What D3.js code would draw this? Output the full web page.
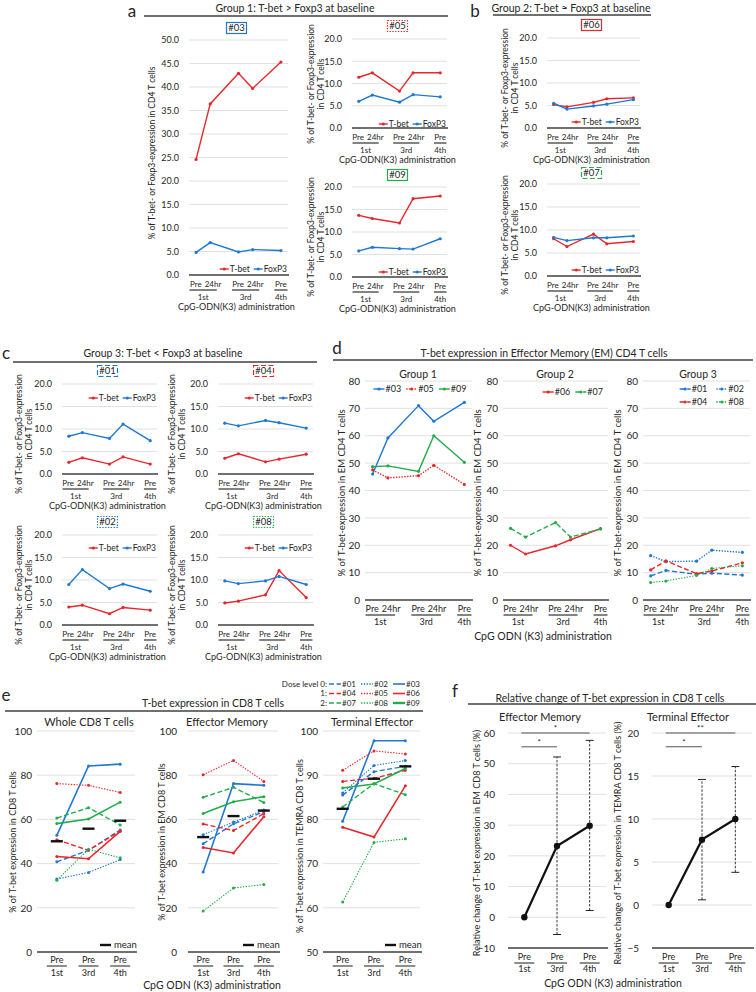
<!DOCTYPE html>
<html><head><meta charset="utf-8">
<script src="https://cdn.jsdelivr.net/npm/d3@7"></script>
<style>body{margin:0;background:#fff}svg{display:block}</style>
</head><body><script>
// ================= DATA =================
const cd4Times = ["Pre","24hr","Pre","24hr","Pre"];
const cd4Admin = ["1st","1st","3rd","3rd","4th"];
const adminGroups = ["1st","3rd","4th"];
// CD4 T-bet / FoxP3 (% of CD4 T cells)
const tbet03 = [24.6, 36.4, 42.9, 39.7, 45.3], foxp3_03 = [4.8, 6.9, 4.9, 5.4, 5.2];
const tbet05 = [11.4, 12.4, 8.3, 12.4, 12.4], foxp3_05 = [6.0, 7.4, 5.8, 7.5, 7.0];
const tbet09 = [13.7, 13.0, 12.0, 17.4, 18.0], foxp3_09 = [5.8, 6.6, 6.3, 6.2, 8.5];
const tbet06 = [5.2, 4.7, 5.7, 6.5, 6.7],      foxp3_06 = [5.5, 4.2, 4.9, 5.3, 6.3];
const tbet07 = [8.1, 6.4, 9.1, 7.0, 7.5],      foxp3_07 = [8.4, 7.7, 8.3, 8.3, 8.7];
const tbet01 = [2.6, 3.6, 2.2, 3.8, 2.2],      foxp3_01 = [8.4, 9.2, 7.9, 11.1, 7.4];
const tbet04 = [3.5, 4.5, 2.7, 3.3, 4.4],      foxp3_04 = [11.3, 10.7, 11.9, 11.4, 10.2];
const tbet02 = [4.0, 4.4, 2.5, 3.9, 3.3],      foxp3_02 = [9.0, 12.3, 8.1, 9.1, 7.5];
const tbet08 = [4.9, 5.3, 6.7, 12.1, 6.1],     foxp3_08 = [9.8, 9.2, 9.8, 10.8, 9.0];
// T-bet in EM CD4 T cells
const em03 = [46.0, 59.2, 71.0, 65.3, 72.2];
const em05 = [47.5, 44.6, 45.4, 49.2, 42.2];
const em09 = [48.7, 49.0, 47.0, 60.0, 50.3];
const em06 = [20.0, 16.8, 19.8, 22.0, 26.1];
const em07 = [26.2, 23.0, 28.3, 23.0, 25.9];
const em01 = [8.8, 10.8, 9.4, 9.8, 9.1];
const em02 = [16.2, 14.0, 14.2, 18.2, 17.4];
const em04 = [11.0, 14.3, 9.6, 10.6, 13.6];
const em08 = [6.4, 6.9, 9.0, 11.5, 12.5];
// CD8 (Pre 1st, Pre 3rd, Pre 4th)
const cd8Admin = ["1st","3rd","4th"];
const patients = ["#01","#02","#03","#04","#05","#06","#07","#08","#09"];
const wholeCD8 = [[40.8,46.0,55.2],[33.0,36.0,41.8],[52.8,84.2,85.0],[50.8,46.0,54.8],[76.2,75.4,72.2],[43.2,42.2,54.6],[60.6,65.3,57.5],[32.5,46.5,42.6],[58.1,60.2,67.8]];
const wholeMean = [50.1, 55.8, 59.4];
const emCD8 = [[49.0,58.0,63.5],[53.1,58.8,64.2],[36.2,76.2,75.4],[57.9,55.0,62.6],[80.2,86.7,77.2],[47.3,44.8,61.2],[70.0,74.5,67.6],[18.5,29.0,30.5],[62.7,68.0,70.3]];
const emMean = [52.0, 61.5, 64.0];
const temraCD8 = [[85.5,90.8,92.0],[86.0,92.2,93.3],[79.6,97.8,97.8],[88.6,89.3,91.1],[91.1,95.5,94.8],[78.2,76.0,87.6],[82.8,88.1,85.6],[61.3,74.8,75.6],[87.1,88.0,91.5]];
const temraMean = [82.4, 89.2, 92.0];
// Relative change (%)
const relEM = [0, 23.2, 29.8], relEMlo = [null, -5.6, 2.2], relEMhi = [null, 52.2, 57.6];
const relTE = [0, 7.6, 10.0],  relTElo = [null, 0.6, 3.8],  relTEhi = [null, 14.6, 16.1];
const sigEM = [["1st","3rd",55.5,"*"],["1st","4th",60,"*"]];
const sigTE = [["1st","3rd",18.4,"*"],["1st","4th",20,"**"]];

// ================= STYLE / HELPERS =================
const W=756,H=992;
const FONT="Lato, 'Liberation Sans', sans-serif";
const RED="#e8262b", BLUE="#1f78d2", GREEN="#22ad4b", INK="#262626", GRID="#d9d9d9", AXIS="#404040";
const DASH={solid:null,dashed:"5,2.5",dotted:"1.4,1.4"};
const pStyle={"#01":[BLUE,"dashed"],"#02":[BLUE,"dotted"],"#03":[BLUE,"solid"],
              "#04":[RED,"dashed"],"#05":[RED,"dotted"],"#06":[RED,"solid"],
              "#07":[GREEN,"dashed"],"#08":[GREEN,"dotted"],"#09":[GREEN,"solid"]};
const svg=d3.select("body").append("svg").attr("width",W).attr("height",H).style("font-family",FONT);
svg.append("rect").attr("width",W).attr("height",H).attr("fill","#fff");

function txt(p,x,y,s,size,anchor="middle"){
  return p.append("text").attr("x",x).attr("y",y).attr("dy","0.35em").attr("text-anchor",anchor)
    .attr("font-size",size).attr("fill",INK).text(s);
}
function vtxt(p,x,y,lines,size,lh){
  const n=lines.length;
  lines.forEach((s,i)=>{
    const xx=x+(i-(n-1)/2)*lh;
    p.append("text").attr("transform",`translate(${xx},${y}) rotate(-90)`).attr("dy","0.35em")
      .attr("text-anchor","middle").attr("font-size",size).attr("fill",INK).text(s);
  });
}
function hline(p,x1,x2,y,color,w,dash){
  return p.append("line").attr("x1",x1).attr("x2",x2).attr("y1",y).attr("y2",y)
    .attr("stroke",color).attr("stroke-width",w).attr("stroke-dasharray",dash||null);
}
function header(letter,lx,lbase,title,tx,ty,ux1,ux2,uy){
  svg.append("text").attr("x",lx).attr("y",lbase).attr("text-anchor","middle")
    .attr("font-size",17).attr("fill",INK).text(letter);
  txt(svg,tx,ty,title,10.5);
  hline(svg,ux1,ux2,uy,AXIS,1.3);
}
function legend(p,items,x,y,opt){
  const g=p.append("g");
  let cx=0;
  items.forEach(it=>{
    g.append("line").attr("x1",cx).attr("x2",cx+opt.seg).attr("y1",0).attr("y2",0)
      .attr("stroke",it.color).attr("stroke-width",it.w||1.4).attr("stroke-dasharray",DASH[it.dash||"solid"]);
    if(it.marker!==false) g.append("circle").attr("cx",cx+opt.seg/2).attr("cy",0).attr("r",1.6).attr("fill",it.color);
    const t=g.append("text").attr("x",cx+opt.seg+1).attr("y",0).attr("dy","0.35em")
      .attr("font-size",opt.size).attr("fill",INK).text(it.label);
    cx+=opt.seg+1+t.node().getComputedTextLength()+opt.gap;
  });
  cx-=opt.gap;
  const sx=opt.align==="right"?x-cx:(opt.align==="center"?x-cx/2:x);
  g.attr("transform",`translate(${sx},${y})`);
}
function idBox(p,cx,cy,id){
  const [c,d]=pStyle[id];
  p.append("rect").attr("x",cx-10).attr("y",cy-5.5).attr("width",20).attr("height",11)
    .attr("fill","none").attr("stroke",c).attr("stroke-width",1.2).attr("stroke-dasharray",DASH[d]);
  txt(p,cx,cy,id,9.5);
}

// ===== time-course chart (CD4 panels a-d) =====
const slotKeys=["1st|Pre","1st|24hr","gapA","3rd|Pre","3rd|24hr","gapB","4th|Pre"];
const cd4Keys=cd4Times.map((t,i)=>cd4Admin[i]+"|"+t);
function timeChart(o){
  const g=svg.append("g");
  const x=d3.scaleBand().domain(slotKeys).range([o.x0,o.x1]);
  const bw=x.bandwidth();
  const cx=k=>x(k)+bw/2;
  const y=d3.scaleLinear().domain([0,o.ymax]).range([o.yZero,o.yTop]);
  const ticks=d3.range(0,o.ymax+1e-6,o.step);
  g.selectAll(null).data(ticks.slice(1)).join("line")
    .attr("x1",o.x0).attr("x2",o.x1).attr("y1",d=>y(d)).attr("y2",d=>y(d))
    .attr("stroke",GRID).attr("stroke-width",0.8);
  const ax=g.append("g").attr("transform",`translate(${o.x0},0)`)
    .call(d3.axisLeft(y).tickValues(ticks).tickSize(0).tickPadding(o.pad).tickFormat(d3.format(o.fmt)));
  ax.select(".domain").remove();
  ax.selectAll("text").attr("font-size",o.tick||9).attr("fill",INK).attr("font-family",FONT);
  hline(g,o.x0,o.x1+1,o.yZero,AXIS,1.6);
  const line=d3.line().x((d,i)=>cx(cd4Keys[i])).y(d=>y(d));
  o.series.forEach(s=>{
    g.append("path").datum(s.values).attr("d",line).attr("fill","none").attr("stroke",s.color)
      .attr("stroke-width",s.w||1.4).attr("stroke-dasharray",DASH[s.dash||"solid"]);
    g.selectAll(null).data(s.values).join("circle").attr("cx",(d,i)=>cx(cd4Keys[i])).attr("cy",d=>y(d))
      .attr("r",1.6).attr("fill",s.color);
  });
  // x labels
  const fs=o.xlab||8;
  adminGroups.forEach(a=>{
    const idx=cd4Keys.map((k,i)=>i).filter(i=>cd4Admin[i]===a);
    const ks=idx.map(i=>cd4Keys[i]);
    if(ks.length===2){
      const b=x(ks[1]);
      txt(g,b-1.5,o.yZero+9,cd4Times[idx[0]],fs,"end");
      txt(g,b+1.5,o.yZero+9,cd4Times[idx[1]],fs,"start");
    } else {
      txt(g,cx(ks[0]),o.yZero+9,cd4Times[idx[0]],fs);
    }
    const xa=x(ks[0])+0.5, xb=x(ks[ks.length-1])+bw-0.5;
    hline(g,xa,xb,o.yZero+15,AXIS,1.3);
    txt(g,(xa+xb)/2,o.yZero+22,a,fs);
  });
  if(o.admin) txt(g,(o.x0+o.x1)/2-2,o.yZero+32,"CpG-ODN(K3) administration",9);
  if(o.yTitle) vtxt(g,o.yTitle[0],o.yTitle[1],o.yTitle[2],o.yTitleSize||8.5,10);
  if(o.legend) legend(g,o.legend.items,o.legend.x,o.legend.y,o.legend.opt);
  if(o.label) txt(g,o.label[0],o.label[1],o.label[2],10.5);
  return g;
}
const cd4Legend=(x,y)=>({items:[{label:"T-bet",color:RED},{label:"FoxP3",color:BLUE}],x,y,opt:{seg:9,gap:4,size:8.5,align:"right"}});
const cd4Title1=["% of T-bet- or Foxp3-expression in CD4 T cells"];
const cd4Title2=["% of T-bet- or Foxp3-expression","in CD4 T cells"];
function cd4(id,tb,fx,x0,x1,yTop,yZero,ymax,boxY,yt,legY){
  const ser=[{values:tb,color:RED},{values:fx,color:BLUE}];
  timeChart({x0,x1,yTop,yZero,ymax,step:5,fmt:".1f",pad:10,series:ser,admin:true,
    yTitle:yt,legend:cd4Legend(x1-1,legY)});
  idBox(svg,(x0+x1)/2-2,boxY,id);
}

// ---- Panel a ----
header("a",132,17,"Group 1: T-bet > Foxp3 at baseline",295,8,144,448,16);
cd4("#03",tbet03,foxp3_03,189,288,40,275,50,28,[152,153,cd4Title1],269);
cd4("#05",tbet05,foxp3_05,352,447,39,128,20,26,[316,84,cd4Title2],124);
cd4("#09",tbet09,foxp3_09,352,447,187,277,20,175,[316,237,cd4Title2],272);
// ---- Panel b ----
header("b",475,17,"Group 2: T-bet \u2248 Foxp3 at baseline",571,8,493,651,15);
cd4("#06",tbet06,foxp3_06,547,640,38,128,20,25,[510,88,cd4Title2],122);
cd4("#07",tbet07,foxp3_07,547,640,184,276,20,173,[510,235,cd4Title2],270);
// ---- Panel c ----
header("c",6,359,"Group 3: T-bet < Foxp3 at baseline",163,353,13,317,362);
cd4("#01",tbet01,foxp3_01,62,157,384,474,20,371,[24,434,cd4Title2],398);
cd4("#04",tbet04,foxp3_04,218,313,384,474,20,371,[177,434,cd4Title2],398);
cd4("#02",tbet02,foxp3_02,62,157,535,625,20,522,[24,585,cd4Title2],548);
cd4("#08",tbet08,foxp3_08,218,313,535,625,20,522,[177,585,cd4Title2],548);

// ---- Panel d ----
header("d",337,354,"T-bet expression in Effector Memory (EM) CD4 T cells",544,353,333,753,360);
const emTitle=["% of T-bet-expression in EM CD4 T cells"];
const sty=id=>({color:pStyle[id][0],dash:pStyle[id][1]});
timeChart({x0:365,x1:472,yTop:381,yZero:600,ymax:80,step:10,fmt:"d",pad:5,tick:10,xlab:9,
  series:[{values:em03,...sty("#03")},{values:em05,...sty("#05")},{values:em09,...sty("#09")}],
  yTitle:[342,493,emTitle],yTitleSize:9.5,label:[418,374,"Group 1"],
  legend:{items:[{label:"#03",...sty("#03")},{label:"#05",...sty("#05")},{label:"#09",...sty("#09")}],x:420,y:389,opt:{seg:11,gap:5,size:9,align:"center"}}});
timeChart({x0:503,x1:608,yTop:381,yZero:600,ymax:80,step:10,fmt:"d",pad:5,tick:10,xlab:9,
  series:[{values:em06,...sty("#06")},{values:em07,...sty("#07")}],
  yTitle:[478,493,emTitle],yTitleSize:9.5,label:[555,374,"Group 2"],
  legend:{items:[{label:"#06",...sty("#06")},{label:"#07",...sty("#07")}],x:603,y:392,opt:{seg:11,gap:5,size:9,align:"right"}}});
const g3=timeChart({x0:643,x1:750,yTop:381,yZero:600,ymax:80,step:10,fmt:"d",pad:5,tick:10,xlab:9,
  series:[{values:em01,...sty("#01")},{values:em02,...sty("#02")},{values:em04,...sty("#04")},{values:em08,...sty("#08"),w:1.1}],
  yTitle:[618,493,emTitle],yTitleSize:9.5,label:[698,374,"Group 3"],
  legend:{items:[{label:"#01",...sty("#01")},{label:"#02",...sty("#02")}],x:744,y:389,opt:{seg:11,gap:9,size:9,align:"right"}}});
legend(g3,[{label:"#04",...sty("#04")},{label:"#08",...sty("#08")}],744,402,{seg:11,gap:9,size:9,align:"right"});
txt(svg,543,636,"CpG ODN (K3) administration",10.5);

// ===== CD8 charts (panel e) =====
function cd8Chart(o){
  const g=svg.append("g");
  const x=d3.scalePoint().domain(cd8Admin).range([o.px0,o.px1]).padding(0.5);
  const y=d3.scaleLinear().domain([o.ymin,o.ymax]).range([o.yBot,o.yTop]);
  const ticks=d3.range(o.ymin,o.ymax+1e-6,o.step);
  g.selectAll(null).data(ticks.slice(1)).join("line")
    .attr("x1",o.gx0).attr("x2",o.gx1).attr("y1",d=>y(d)).attr("y2",d=>y(d))
    .attr("stroke",GRID).attr("stroke-width",0.8);
  const ax=g.append("g").attr("transform",`translate(${o.gx0},0)`)
    .call(d3.axisLeft(y).tickValues(ticks).tickSize(0).tickPadding(o.pad).tickFormat(d3.format("d")));
  ax.select(".domain").remove();
  ax.selectAll("text").attr("font-size",10).attr("fill",INK).attr("font-family",FONT);
  hline(g,o.gx0,o.gx1+2,o.yBot,AXIS,1.6);
  const line=d3.line().x((d,i)=>x(cd8Admin[i])).y(d=>y(d));
  patients.forEach((p,pi)=>{
    const [c,d]=pStyle[p];
    const w=d==="solid"?1.6:(d==="dashed"?1.4:1.1);
    g.append("path").datum(o.data[pi]).attr("d",line).attr("fill","none").attr("stroke",c)
      .attr("stroke-width",w).attr("stroke-dasharray",DASH[d]);
    g.selectAll(null).data(o.data[pi]).join("circle").attr("cx",(v,i)=>x(cd8Admin[i])).attr("cy",v=>y(v))
      .attr("r",1.5).attr("fill",c);
  });
  g.selectAll(null).data(o.mean).join("line")
    .attr("x1",(v,i)=>x(cd8Admin[i])-6).attr("x2",(v,i)=>x(cd8Admin[i])+6)
    .attr("y1",v=>y(v)).attr("y2",v=>y(v)).attr("stroke","#111").attr("stroke-width",2.4);
  // mean legend
  hline(g,o.gx1-35,o.gx1-24,o.yBot-7,"#111",2.4);
  txt(g,o.gx1-21,o.yBot-7,"mean",9.5,"start");
  cd8Admin.forEach(a=>{
    txt(g,x(a),960,"Pre",9);
    hline(g,x(a)-10,x(a)+10,966,AXIS,1.2);
    txt(g,x(a),973,a,9);
  });
  txt(g,o.label[0],722,o.label[1],11);
  vtxt(g,o.yTitle[0],o.yTitle[1],[o.yTitle[2]],9,10);
}
header("e",6,701,"T-bet expression in CD8 T cells",213,703,5,423,711);
cd8Chart({gx0:37,gx1:135,px0:41,px1:136,yTop:731,yBot:952,ymin:0,ymax:100,step:20,pad:5,
  data:wholeCD8,mean:wholeMean,label:[89,"Whole CD8 T cells"],yTitle:[13,842,"% of T-bet expression in CD8 T cells"]});
cd8Chart({gx0:188,gx1:278,px0:188,px1:279,yTop:731,yBot:952,ymin:0,ymax:100,step:20,pad:11,
  data:emCD8,mean:emMean,label:[227,"Effector Memory"],yTitle:[162,842,"% of T-bet expression in EM CD8 T cells"]});
cd8Chart({gx0:323,gx1:420,px0:327,px1:421,yTop:731,yBot:952,ymin:50,ymax:100,step:10,pad:5,
  data:temraCD8,mean:temraMean,label:[372,"Terminal Effector"],yTitle:[300,846,"% of T-bet expression in TEMRA CD8 T cells"]});
txt(svg,212,985,"CpG ODN (K3) administration",10.5);
// dose legend
const legRows=[["Dose level 0:",["#01","#02","#03"]],["1:",["#04","#05","#06"]],["2:",["#07","#08","#09"]]];
legRows.forEach((r,ri)=>{
  const yy=684+ri*9.5;
  txt(svg,327,yy,r[0],8,"end");
  r[1].forEach((id,ci)=>{
    const [c,d]=pStyle[id];
    const x0=329+ci*32;
    hline(svg,x0,x0+12,yy,c,d==="solid"?(id==="#09"?2.4:1.6):1.3,DASH[d]);
    txt(svg,x0+13,yy,id,8,"start");
  });
});

// ===== Relative change charts (panel f) =====
function relChart(o){
  const g=svg.append("g");
  const x=d3.scalePoint().domain(cd8Admin).range([o.gx0,o.gx1]).padding(0.5);
  const y=d3.scaleLinear().domain([o.ymin,o.ymax]).range([948,733]);
  const ticks=d3.range(o.ymin,o.ymax+1e-6,o.step);
  g.selectAll(null).data(ticks.slice(1)).join("line")
    .attr("x1",o.gx0).attr("x2",o.gx1).attr("y1",d=>y(d)).attr("y2",d=>y(d))
    .attr("stroke",GRID).attr("stroke-width",0.8);
  const ax=g.append("g").attr("transform",`translate(${o.gx0},0)`)
    .call(d3.axisLeft(y).tickValues(ticks).tickSize(0).tickPadding(o.pad).tickFormat(d3.format("d")));
  ax.select(".domain").remove();
  ax.selectAll("text").attr("font-size",10).attr("fill",INK).attr("font-family",FONT);
  hline(g,o.gx0,o.gx1+2,948,AXIS,1.6);
  // error bars
  cd8Admin.forEach((a,i)=>{
    if(o.lo[i]==null) return;
    g.append("line").attr("x1",x(a)).attr("x2",x(a)).attr("y1",y(o.lo[i])).attr("y2",y(o.hi[i]))
      .attr("stroke","#222").attr("stroke-width",0.9).attr("stroke-dasharray","2.5,1.5");
    hline(g,x(a)-4,x(a)+4,y(o.lo[i]),"#222",1);
    hline(g,x(a)-4,x(a)+4,y(o.hi[i]),"#222",1);
  });
  g.append("path").datum(o.vals).attr("d",d3.line().x((d,i)=>x(cd8Admin[i])).y(d=>y(d)))
    .attr("fill","none").attr("stroke","#111").attr("stroke-width",2.2);
  g.selectAll(null).data(o.vals).join("circle").attr("cx",(v,i)=>x(cd8Admin[i])).attr("cy",v=>y(v))
    .attr("r",3.2).attr("fill","#111");
  o.sig.forEach(s=>{
    const xa=x(s[0])-3, xb=x(s[1]);
    hline(g,xa,xb,y(s[2]),"#555",1);
    txt(g,(xa+xb)/2,y(s[2])-5,s[3],8);
  });
  cd8Admin.forEach(a=>{
    txt(g,x(a),957,"Pre",9);
    hline(g,x(a)-10,x(a)+10,963,AXIS,1.2);
    txt(g,x(a),969,a,9);
  });
  txt(g,o.label[0],717,o.label[1],11);
  vtxt(g,o.yTitle[0],843,[o.yTitle[1]],9,10);
}
header("f",455,697,"Relative change of T-bet expression in CD8 T cells",610,698,468,756,704);
relChart({gx0:508,gx1:606,ymin:-10,ymax:60,step:10,pad:13,vals:relEM,lo:relEMlo,hi:relEMhi,sig:sigEM,
  label:[540,"Effector Memory"],yTitle:[477,"Relative change of T-bet expression in EM CD8 T cells (%)"]});
relChart({gx0:652,gx1:752,ymin:-5,ymax:20,step:5,pad:13,vals:relTE,lo:relTElo,hi:relTEhi,sig:sigTE,
  label:[688,"Terminal Effector"],yTitle:[618,"Relative change of T-bet expression in TEMRA CD8 T cells (%)"]});
txt(svg,613,983,"CpG ODN (K3) administration",10.5);
</script></body></html>
